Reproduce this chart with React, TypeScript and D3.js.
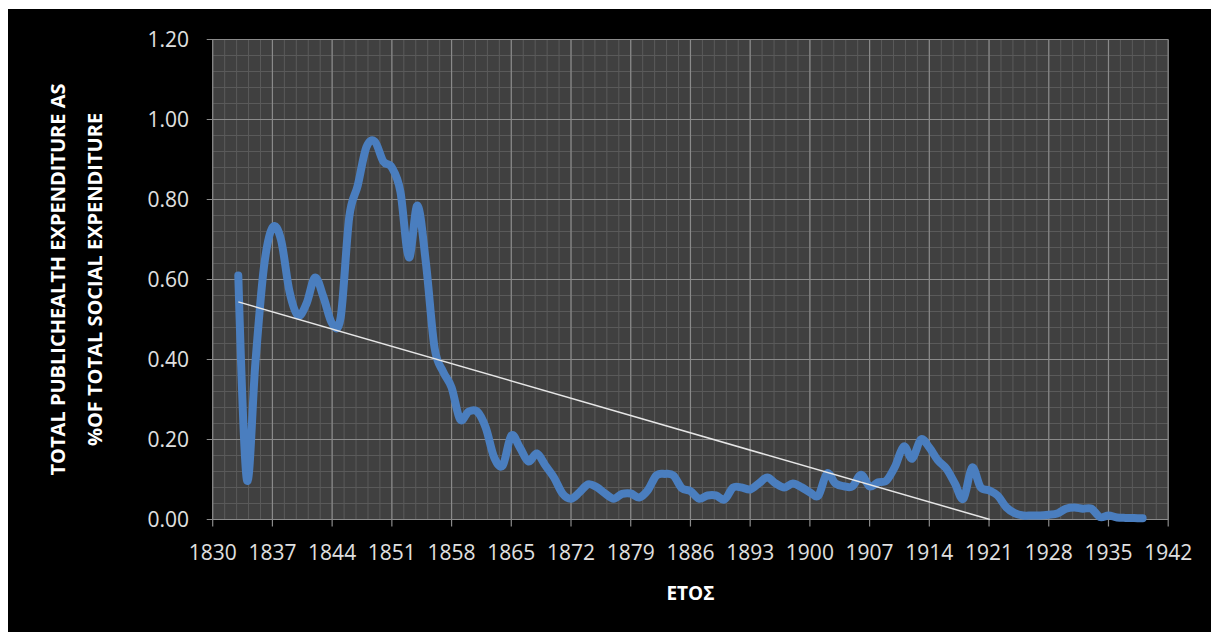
import React from "react";
import * as d3 from "d3";

// ---- data ----
const firstYear = 1833;
const shares = [
  0.61, 0.1, 0.39, 0.63, 0.73, 0.7, 0.57, 0.51, 0.54, 0.605,
  0.555, 0.49, 0.505, 0.755, 0.835, 0.93, 0.945, 0.895, 0.88, 0.82,
  0.655, 0.785, 0.64, 0.43, 0.37, 0.33, 0.25, 0.27, 0.27, 0.23,
  0.155, 0.135, 0.21, 0.18, 0.145, 0.165, 0.135, 0.105, 0.065, 0.052,
  0.068, 0.088, 0.081, 0.065, 0.052, 0.064, 0.065, 0.055, 0.073, 0.11,
  0.114, 0.11, 0.078, 0.071, 0.052, 0.06, 0.06, 0.05, 0.08, 0.08,
  0.075, 0.09, 0.105, 0.09, 0.08, 0.09, 0.081, 0.068, 0.06, 0.115,
  0.09, 0.083, 0.083, 0.112, 0.083, 0.093, 0.098, 0.133, 0.183, 0.152,
  0.2, 0.18, 0.148, 0.127, 0.09, 0.052, 0.13, 0.081, 0.073, 0.06,
  0.031, 0.016, 0.01, 0.01, 0.01, 0.012, 0.015, 0.027, 0.03, 0.027,
  0.027, 0.006, 0.01, 0.005, 0.004, 0.004, 0.003,
];
const xTickLabels = [
  "1830", "1837", "1844", "1851", "1858", "1865", "1872", "1879", "1886",
  "1893", "1900", "1907", "1914", "1921", "1928", "1935", "1942",
];
const yTickLabels = ["0.00", "0.20", "0.40", "0.60", "0.80", "1.00", "1.20"];
const trendStart = { year: 1833, value: 0.544 };
const trendEnd = { year: 1921.1, value: 0 };
const yTitleLines = ["TOTAL PUBLICHEALTH EXPENDITURE AS", "%OF TOTAL SOCIAL EXPENDITURE"];
const xTitle = "ΕΤΟΣ";

// ---- layout ----
const W = 1211;
const H = 632;
const left = 212.7;
const right = 1168.2;
const top = 39.5;
const bottom = 519.5;
const FONT = "'Open Sans', 'Liberation Sans', sans-serif";

export default function App() {
  const xTickYears = xTickLabels.map(Number);
  const yTickVals = yTickLabels.map(Number);
  const x = d3.scaleLinear().domain([xTickYears[0], xTickYears[xTickYears.length - 1]]).range([left, right]);
  const y = d3.scaleLinear().domain([yTickVals[0], yTickVals[yTickVals.length - 1]]).range([bottom, top]);

  const points = shares.map((v, i) => [firstYear + i, v] as [number, number]);
  const line = d3
    .line<[number, number]>()
    .x((d) => x(d[0]))
    .y((d) => y(d[1]))
    .curve(d3.curveCardinal.tension(0));

  const minorX = d3.range(0, 81).map((i) => xTickYears[0] + i * 1.4);
  const minorY = d3.range(0, 31).map((i) => i * 0.04);

  return (
    <svg width={W} height={H} style={{ position: "absolute", left: 0, top: 0, display: "block" }}>
      <rect x={0} y={0} width={W} height={H} fill="#ffffff" />
      <rect x={8} y={9} width={W - 8} height={H - 9} fill="#000000" />
      <rect x={left} y={top} width={right - left} height={bottom - top} fill="#404040" />
      {minorX.map((yr, i) => (
        <line key={"mx" + i} x1={x(yr)} x2={x(yr)} y1={top} y2={bottom} stroke="#5a5a5a" strokeWidth={1} />
      ))}
      {minorY.map((v, i) => (
        <line key={"my" + i} x1={left} x2={right} y1={y(v)} y2={y(v)} stroke="#5a5a5a" strokeWidth={1} />
      ))}
      {xTickYears.map((yr, i) => (
        <line key={"Mx" + i} x1={x(yr)} x2={x(yr)} y1={top} y2={bottom + 7} stroke="#8a8a8a" strokeWidth={1.2} />
      ))}
      {yTickVals.map((v, i) => (
        <line key={"My" + i} x1={left - 6} x2={right} y1={y(v)} y2={y(v)} stroke="#8a8a8a" strokeWidth={1.2} />
      ))}
      <path
        d={line(points) || ""}
        fill="none"
        stroke="#4a7ebf"
        strokeWidth={8}
        strokeLinejoin="round"
        strokeLinecap="round"
      />
      <line
        x1={x(trendStart.year)}
        y1={y(trendStart.value)}
        x2={x(trendEnd.year)}
        y2={y(trendEnd.value)}
        stroke="#e6e6e6"
        strokeWidth={1.5}
      />
      {yTickLabels.map((t, i) => (
        <text
          key={"yl" + i}
          x={189}
          y={y(yTickVals[i])}
          dy="0.35em"
          textAnchor="end"
          fontFamily={FONT}
          fontSize={21}
          fill="#e0e0e0"
        >
          {t}
        </text>
      ))}
      {xTickLabels.map((t, i) => (
        <text
          key={"xl" + i}
          x={x(xTickYears[i])}
          y={553}
          dy="0.35em"
          textAnchor="middle"
          fontFamily={FONT}
          fontSize={21}
          fill="#e0e0e0"
        >
          {t}
        </text>
      ))}
      <text
        x={(left + right) / 2}
        y={593}
        dy="0.35em"
        textAnchor="middle"
        fontFamily={FONT}
        fontSize={19}
        fontWeight="bold"
        fill="#ffffff"
      >
        {xTitle}
      </text>
      {yTitleLines.map((t, i) => (
        <text
          key={"yt" + i}
          transform={`translate(${58 + i * 37},${(top + bottom) / 2}) rotate(-90)`}
          dy="0.35em"
          textAnchor="middle"
          fontFamily={FONT}
          fontSize={20}
          fontWeight="bold"
          fill="#ffffff"
        >
          {t}
        </text>
      ))}
    </svg>
  );
}
